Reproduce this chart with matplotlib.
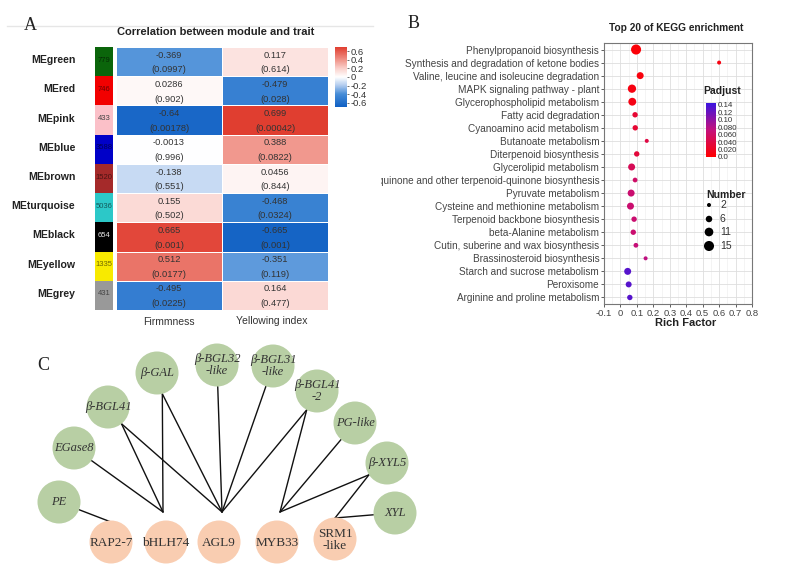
import matplotlib
matplotlib.use("Agg")
import matplotlib.pyplot as plt
import numpy as np
from matplotlib.colors import LinearSegmentedColormap, Normalize, to_rgb
from matplotlib.patches import Circle
from matplotlib.lines import Line2D
from matplotlib.transforms import Bbox, TransformedBbox
from matplotlib.cm import ScalarMappable

plt.rcParams['font.family'] = ['Liberation Sans', 'DejaVu Sans']

# ---------------- Panel A data ----------------
modules = ["MEgreen", "MEred", "MEpink", "MEblue", "MEbrown", "MEturquoise",
           "MEblack", "MEyellow", "MEgrey"]
module_colors = ["#0b650b", "#f20000", "#fbc0c8", "#0000c8", "#a52a2a",
                 "#2cc8c8", "#000000", "#f8ea00", "#999999"]
module_sizes = ["779", "746", "433", "3588", "1520", "5036", "654", "1335", "431"]
traits = ["Firmmness", "Yellowing index"]
corr_firm = [-0.369, 0.0286, -0.64, -0.0013, -0.138, 0.155, 0.665, 0.512, -0.495]
corr_yell = [0.117, -0.479, 0.699, 0.388, 0.0456, -0.468, -0.665, -0.351, 0.164]
p_firm = ["0.0997", "0.902", "0.00178", "0.996", "0.551", "0.502", "0.001", "0.0177", "0.0225"]
p_yell = ["0.614", "0.028", "0.00042", "0.0822", "0.844", "0.0324", "0.001", "0.119", "0.477"]
corr_ticks = [0.6, 0.4, 0.2, 0, -0.2, -0.4, -0.6]

# ---------------- Panel B data ----------------
pathways = ["Phenylpropanoid biosynthesis",
            "Synthesis and degradation of ketone bodies",
            "Valine, leucine and isoleucine degradation",
            "MAPK signaling pathway - plant",
            "Glycerophospholipid metabolism",
            "Fatty acid degradation",
            "Cyanoamino acid metabolism",
            "Butanoate metabolism",
            "Diterpenoid biosynthesis",
            "Glycerolipid metabolism",
            "Ubiquinone and other terpenoid-quinone biosynthesis",
            "Pyruvate metabolism",
            "Cysteine and methionine metabolism",
            "Terpenoid backbone biosynthesis",
            "beta-Alanine metabolism",
            "Cutin, suberine and wax biosynthesis",
            "Brassinosteroid biosynthesis",
            "Starch and sucrose metabolism",
            "Peroxisome",
            "Arginine and proline metabolism"]
rich_factor = [0.095, 0.60, 0.12, 0.07, 0.072, 0.089, 0.09, 0.16, 0.099, 0.068,
               0.089, 0.065, 0.061, 0.083, 0.078, 0.094, 0.153, 0.044, 0.05, 0.057]
gene_number = [15, 2, 7, 10, 9, 4, 4, 2, 4, 7, 3, 7, 7, 4, 4, 3, 2, 7, 5, 4]
padjust = [0.005, 0.01, 0.008, 0.01, 0.012, 0.03, 0.03, 0.04, 0.035, 0.05,
           0.06, 0.065, 0.065, 0.065, 0.065, 0.07, 0.075, 0.13, 0.13, 0.13]
rich_ticks = [-0.1, 0, 0.1, 0.2, 0.3, 0.4, 0.5, 0.6, 0.7, 0.8]
rich_tick_labels = ["-0.1", "0", "0.1", "0.2", "0.3", "0.4", "0.5", "0.6", "0.7", "0.8"]
padj_ticks = [0.0, 0.02, 0.04, 0.06, 0.08, 0.10, 0.12, 0.14]
padj_tick_labels = ["0.0", "0.020", "0.040", "0.060", "0.080", "0.10", "0.12", "0.14"]
number_legend = [2, 6, 11, 15]

# ---------------- Panel C data ----------------
green_nodes = ["PE", "EGase8", "β-BGL41", "β-GAL", "β-BGL32\n-like", "β-BGL31\n-like",
               "β-BGL41\n-2", "PG-like", "β-XYL5", "XYL"]
orange_nodes = ["RAP2-7", "bHLH74", "AGL9", "MYB33", "SRM1\n-like"]
edges = [("PE", "RAP2-7"), ("EGase8", "bHLH74"),
         ("β-BGL41", "bHLH74"), ("β-BGL41", "AGL9"),
         ("β-GAL", "bHLH74"), ("β-GAL", "AGL9"),
         ("β-BGL32\n-like", "AGL9"), ("β-BGL31\n-like", "AGL9"),
         ("β-BGL41\n-2", "AGL9"), ("β-BGL41\n-2", "MYB33"),
         ("PG-like", "MYB33"), ("β-XYL5", "MYB33"),
         ("β-XYL5", "SRM1\n-like"), ("XYL", "SRM1\n-like")]

# layout (pixel positions of network nodes)
layout = {"PE": (59, 502), "EGase8": (74, 448), "β-BGL41": (108, 407),
          "β-GAL": (157, 373), "β-BGL32\n-like": (217, 365), "β-BGL31\n-like": (273, 366),
          "β-BGL41\n-2": (317, 391), "PG-like": (355, 423), "β-XYL5": (387, 463),
          "XYL": (395, 513),
          "RAP2-7": (111, 542), "bHLH74": (166, 542), "AGL9": (219, 542),
          "MYB33": (277, 542), "SRM1\n-like": (335, 539)}
anchor_offset = {"RAP2-7": (0, -20), "bHLH74": (-3, -30), "AGL9": (3, -30),
                 "MYB33": (3, -30), "SRM1\n-like": (0, -21)}

W, H = 787, 567
fig = plt.figure(figsize=(W / 100, H / 100), dpi=100)


def ax_px(x0, y0, x1, y1, **kw):
    return fig.add_axes([x0 / W, 1 - y1 / H, (x1 - x0) / W, (y1 - y0) / H], **kw)


def ftext(x, y, s, **kw):
    return fig.text(x / W, 1 - y / H, s, **kw)


# faint separator line behind panel A header
fig.add_artist(Line2D([7 / W, 373 / W], [1 - 26 / H, 1 - 26 / H], color='#e6e6e6',
                      lw=1.0, transform=fig.transFigure, zorder=-1))

# ---------- full-figure pixel axes for panel C & legend ----------
axf = ax_px(0, 0, W, H)
axf.set_xlim(0, W)
axf.set_ylim(H, 0)
axf.axis('off')
axf.set_zorder(10)
axf.patch.set_alpha(0)

green_c = "#b8cfa4"
orange_c = "#f9cdb1"
R = 21.5
targets_of = {}
for src, tgt in edges:
    targets_of.setdefault(src, []).append(tgt)


def anchor(t):
    cx, cy = layout[t]
    dx, dy = anchor_offset[t]
    return cx + dx, cy + dy


start_pt = {}
for src, tl in targets_of.items():
    cx, cy = layout[src]
    mx = np.mean([anchor(t)[0] for t in tl])
    my = np.mean([anchor(t)[1] for t in tl])
    v = np.array([mx - cx, my - cy])
    v = v / np.linalg.norm(v)
    start_pt[src] = (cx + v[0] * R, cy + v[1] * R)

for src, tgt in edges:
    sx, sy = start_pt[src]
    tx, ty = anchor(tgt)
    axf.plot([sx, tx], [sy, ty], color='#111111', lw=1.0, zorder=2,
             solid_capstyle='round')

for n in green_nodes:
    cx, cy = layout[n]
    axf.add_patch(Circle((cx, cy), R, facecolor=green_c, edgecolor='none', zorder=3))
    axf.text(cx, cy, n, ha='center', va='center', fontsize=9, style='italic',
             family=['Liberation Serif', 'DejaVu Serif'], color='#333333',
             zorder=4, linespacing=1.0)
for n in orange_nodes:
    cx, cy = layout[n]
    axf.add_patch(Circle((cx, cy), R, facecolor=orange_c, edgecolor='none', zorder=3))
    axf.text(cx, cy + 1, n, ha='center', va='center', fontsize=9.5,
             family=['Liberation Serif', 'DejaVu Serif'], color='#333333',
             zorder=4, linespacing=1.05)

# ---------------- Panel A ----------------
corr_cmap = LinearSegmentedColormap.from_list(
    "corr", [(0.0, (15/255, 95/255, 195/255)), (0.2143, (70/255, 140/255, 215/255)),
             (0.357, (175/255, 202/255, 238/255)), (0.5, (1, 1, 1)),
             (0.643, (250/255, 208/255, 203/255)), (0.786, (240/255, 148/255, 138/255)),
             (1.0, (224/255, 62/255, 48/255))])
cnorm = Normalize(-0.7, 0.7)

axh = ax_px(116, 47, 328, 310)
mat = np.column_stack([corr_firm, corr_yell])
axh.pcolormesh(np.arange(3), np.arange(len(modules) + 1), mat, cmap=corr_cmap, norm=cnorm,
               edgecolors='white', linewidth=0.4)
axh.set_xlim(0, 2)
axh.set_ylim(len(modules), 0)
axh.axis('off')
for i in range(len(modules)):
    for j, (vals, ps) in enumerate([(corr_firm, p_firm), (corr_yell, p_yell)]):
        axh.text(j + 0.5, i + 0.28, str(vals[i]), ha='center', va='center',
                 fontsize=6.7, color='#333333')
        axh.text(j + 0.5, i + 0.78, "(" + ps[i] + ")", ha='center', va='center',
                 fontsize=6.7, color='#333333')

axs = ax_px(95, 47, 113, 310)
axs.barh(np.arange(len(modules)) + 0.5, 1, height=1.0, color=module_colors)
axs.set_xlim(0, 1)
axs.set_ylim(len(modules), 0)
axs.axis('off')
for i, (c, s) in enumerate(zip(module_colors, module_sizes)):
    rgb = np.array(to_rgb(c))
    tc = (0.9, 0.9, 0.9) if rgb.sum() < 0.1 else tuple(rgb * 0.45)
    if c == "#fbc0c8":
        tc = '#444444'
    axs.text(0.5, i + 0.45, s, ha='center', va='center', fontsize=5.5, color=tc)
    axs.text(-1.1, i + 0.45, modules[i], ha='right', va='center', fontsize=7.6,
             fontweight='bold', color='#222222', transform=axs.transData)

ftext(169, 322, traits[0], ha='center', va='center', fontsize=7.5, color='#333333')
ftext(272, 321, traits[1], ha='center', va='center', fontsize=7.5, color='#333333')
ftext(216, 32, "Correlation between module and trait", ha='center', va='center',
      fontsize=8, fontweight='bold', color='#222222')
ftext(30, 25, "A", ha='center', va='center', fontsize=13,
      family=['Liberation Serif', 'DejaVu Serif'], color='#222222')

cax = ax_px(335, 47, 347, 107)
cb = fig.colorbar(ScalarMappable(norm=cnorm, cmap=corr_cmap), cax=cax)
cb.outline.set_visible(False)
cb.set_ticks(corr_ticks)
cb.set_ticklabels([("%g" % t) for t in corr_ticks])
cax.tick_params(labelsize=6.8, length=1.5, width=0.5, pad=1, colors='#333333')

# ---------------- Panel B ----------------
padj_cmap = LinearSegmentedColormap.from_list(
    "padj", [(0.0, "#ff0000"), (0.5, "#c4107c"), (1.0, "#3a14e0")])
pnorm = Normalize(0, 0.145)


def size_fn(n):
    return 3.4 * np.asarray(n, dtype=float) + 1.5


axb = ax_px(604, 43, 752, 304)
yy = np.arange(len(pathways))
axb.scatter(rich_factor, yy, s=size_fn(gene_number), c=padjust, cmap=padj_cmap,
            norm=pnorm, edgecolors='none', zorder=3)
axb.set_xlim(-0.1, 0.8)
axb.set_ylim(len(pathways) - 0.5, -0.5)
axb.set_yticks(yy)
axb.set_yticklabels(pathways, fontsize=7.2, color='#222222')
axb.set_xticks(rich_ticks)
axb.set_xticklabels(rich_tick_labels, fontsize=6.8, color='#333333')
axb.set_xticks(np.arange(-0.05, 0.8, 0.1), minor=True)
axb.tick_params(axis='both', length=2.5, width=0.6, pad=1, colors='#444444')
axb.tick_params(axis='x', which='minor', length=0)
axb.grid(True, which='major', color='#dedede', lw=0.6)
axb.grid(True, which='minor', axis='x', color='#f0f0f0', lw=0.5)
axb.set_axisbelow(True)
for sp in axb.spines.values():
    sp.set_color('#777777')
    sp.set_linewidth(0.8)
clipbox = TransformedBbox(Bbox([[381 / W, 0], [1, 1]]), fig.transFigure)
for lab in axb.get_yticklabels():
    lab.set_clip_box(clipbox)
    lab.set_clip_on(True)

ftext(676, 28, "Top 20 of KEGG enrichment", ha='center', va='center', fontsize=7.3,
      fontweight='bold', color='#222222')
ftext(686, 323, "Rich Factor", ha='center', va='center', fontsize=8,
      fontweight='bold', color='#222222')
ftext(414, 24, "B", ha='center', va='center', fontsize=13,
      family=['Liberation Serif', 'DejaVu Serif'], color='#222222')

ftext(703, 91, "Padjust", ha='left', va='center', fontsize=7.5, fontweight='bold',
      color='#222222')
pcax = ax_px(706, 103, 716, 157)
pcb = fig.colorbar(ScalarMappable(norm=pnorm, cmap=padj_cmap), cax=pcax)
pcb.outline.set_visible(False)
pcb.set_ticks(padj_ticks)
pcb.set_ticklabels(padj_tick_labels)
pcax.tick_params(labelsize=5.7, length=0, pad=1.5, colors='#333333')

ftext(706, 195, "Number", ha='left', va='center', fontsize=7.5, fontweight='bold',
      color='#222222')
leg_y = [205, 219, 232, 246]
axf.scatter([709] * len(number_legend), leg_y, s=size_fn(number_legend), color='black',
            edgecolors='none', zorder=5)
for n, yv in zip(number_legend, leg_y):
    axf.text(720, yv, str(n), ha='left', va='center', fontsize=7.5, color='#333333')

ftext(43, 365, "C", ha='center', va='center', fontsize=13,
      family=['Liberation Serif', 'DejaVu Serif'], color='#222222')

fig.savefig("out.png", dpi=100)
